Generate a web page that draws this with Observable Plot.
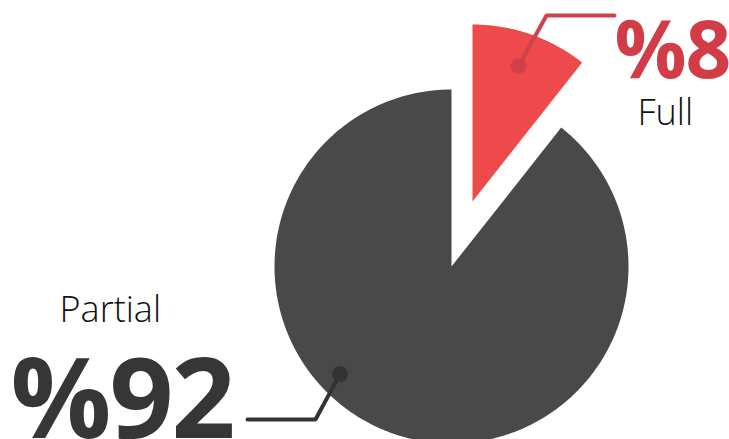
<!DOCTYPE html>
<html>
<head>
<meta charset="utf-8">
<script src="https://cdn.jsdelivr.net/npm/d3@7"></script>
<script src="https://cdn.jsdelivr.net/npm/@observablehq/plot@0.6"></script>
<style>
  html, body { margin: 0; padding: 0; background: #ffffff; overflow: hidden; }
  #chart svg { display: block; }
</style>
</head>
<body>
<div id="chart"></div>
<script>
// ---- data ----
const categories = ["Full", "Partial"];
const percentLabels = ["%8", "%92"];
const values = [8, 92];
// slice boundaries as drawn in the picture (degrees clockwise from 12 o'clock)
const sliceStartDeg = [0, 38.3];
const sliceEndDeg = [38.3, 360];
const colors = ["#ef4a4b", "#494949"];
const labelColors = ["#d13c47", "#363636"];

// ---- layout ----
const W = 729, H = 439;
const cx = 451, cy = 266, R = 177;
const explode = [{dx: 21, dy: -65}, {dx: 0, dy: 0}];

const rad = d => d * Math.PI / 180;
const pt = (ox, oy, r, deg) => [ox + r * Math.sin(rad(deg)), oy - r * Math.cos(rad(deg))];

// polygon points for each slice
const slicePts = [];
categories.forEach((c, i) => {
  const ox = cx + explode[i].dx, oy = cy + explode[i].dy;
  const a0 = sliceStartDeg[i], a1 = sliceEndDeg[i];
  slicePts.push({cat: c, x: ox, y: oy});
  const n = Math.max(2, Math.ceil((a1 - a0) / 0.5));
  for (let j = 0; j <= n; j++) {
    const [x, y] = pt(ox, oy, R, a0 + (a1 - a0) * j / n);
    slicePts.push({cat: c, x, y});
  }
});

// leader lines (dot on slice, elbow, end)
const fullO = [cx + explode[0].dx, cy + explode[0].dy];
const fullDot = pt(fullO[0], fullO[1], 143, 18.8);
const partDot = pt(cx, cy, 155, 226);
const leaders = [
  {cat: "Full", pts: [fullDot, [546, 15], [614, 15]]},
  {cat: "Partial", pts: [partDot, [315, 419], [247, 419]]}
];
const leaderPts = leaders.flatMap(l => l.pts.map(([x, y]) => ({cat: l.cat, x, y})));
const dots = leaders.map(l => ({cat: l.cat, x: l.pts[0][0], y: l.pts[0][1]}));

const texts = [
  {t: percentLabels[0], x: 614, y: 77, size: 80, weight: 700, color: labelColors[0], ls: -1},
  {t: categories[0], x: 637, y: 124, size: 36, weight: 300, color: "#111111", ls: 0},
  {t: categories[1], x: 59, y: 321, size: 36, weight: 300, color: "#111111", ls: 0},
  {t: percentLabels[1], x: 10, y: 437, size: 112, weight: 700, color: labelColors[1], ls: -2}
];

const leaderColor = {Full: "#d0414b", Partial: "#333333"};

const chart = Plot.plot({
  width: W, height: H,
  margin: 0,
  x: {domain: [0, W], range: [0, W], axis: null},
  y: {domain: [0, H], range: [0, H], axis: null},
  color: {domain: categories, range: colors},
  style: {background: "#ffffff", fontFamily: "'Open Sans', sans-serif"},
  marks: [
    Plot.line(slicePts, {x: "x", y: "y", z: "cat", fill: "cat", stroke: null, curve: "linear-closed"}),
    Plot.line(leaderPts.filter(d => d.cat === "Full"), {x: "x", y: "y", stroke: leaderColor.Full, strokeWidth: 4, strokeLinejoin: "miter"}),
    Plot.line(leaderPts.filter(d => d.cat === "Partial"), {x: "x", y: "y", stroke: leaderColor.Partial, strokeWidth: 4, strokeLinejoin: "miter"}),
    Plot.dot(dots, {x: "x", y: "y", r: 8, fill: d => leaderColor[d.cat], stroke: null}),
    ...texts.map(d => Plot.text([d], {
      x: "x", y: "y", text: "t", textAnchor: "start", lineAnchor: "bottom",
      fontSize: d.size, fontWeight: d.weight, fill: d.color,
      render(index, scales, values, dims, ctx, next) {
        const g = next(index, scales, values, dims, ctx);
        d3.select(g).selectAll("text").style("letter-spacing", d.ls + "px");
        return g;
      }
    }))
  ]
});
document.getElementById("chart").appendChild(chart);
</script>
</body>
</html>
